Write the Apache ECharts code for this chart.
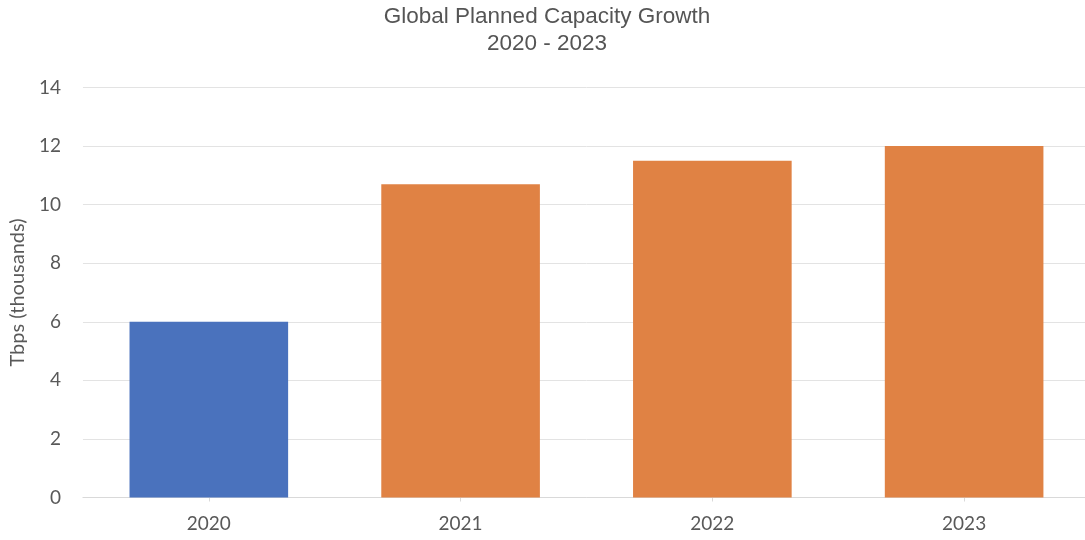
<!DOCTYPE html>
<html><head><meta charset="utf-8">
<script src="https://cdn.jsdelivr.net/npm/echarts@6/dist/echarts.min.js"></script>
<style>html,body{margin:0;padding:0;background:#fff;overflow:hidden}#c{width:1094px;height:540px}</style>
</head><body><div id="c"></div>
<script>
const categories = ['2020', '2021', '2022', '2023'];
const values = [6, 10.7, 11.5, 12];
const barColors = ['#4A72BD', '#E08244', '#E08244', '#E08244'];
const yTicks = {min: 0, max: 14, interval: 2};
const titleText = 'Global Planned Capacity Growth\n2020 - 2023';
const yAxisName = 'Tbps (thousands)';

const chart = echarts.init(document.getElementById('c'), null, {renderer: 'canvas'});
chart.setOption({
  animation: false,
  title: {
    text: titleText, left: 542, textAlign: 'center', top: -2,
    textStyle: {fontFamily: 'Liberation Sans', fontSize: 22.5, fontWeight: 'normal', color: '#555555', lineHeight: 27}
  },
  grid: {left: 82, width: 1008, top: 87.5, bottom: 42.5, containLabel: false},
  xAxis: {
    type: 'category', data: categories,
    axisLine: {lineStyle: {color: '#D9D9D9'}},
    axisTick: {show: true, alignWithLabel: true, length: 4, lineStyle: {color: '#D9D9D9'}},
    axisLabel: {fontFamily: 'Lato', fontSize: 19, color: '#595959', margin: 17}
  },
  yAxis: {
    type: 'value', min: yTicks.min, max: yTicks.max, interval: yTicks.interval,
    name: yAxisName, nameLocation: 'middle', nameGap: 53,
    nameTextStyle: {fontFamily: 'Lato', fontSize: 20, color: '#595959'},
    axisLine: {show: false}, axisTick: {show: false},
    axisLabel: {fontFamily: 'Lato', fontSize: 19, color: '#595959', margin: 22},
    splitLine: {lineStyle: {color: '#E3E3E3'}}
  },
  series: [{
    type: 'bar', barWidth: '63%',
    data: values.map((v, i) => ({value: v, itemStyle: {color: barColors[i]}}))
  }]
});
</script></body></html>
